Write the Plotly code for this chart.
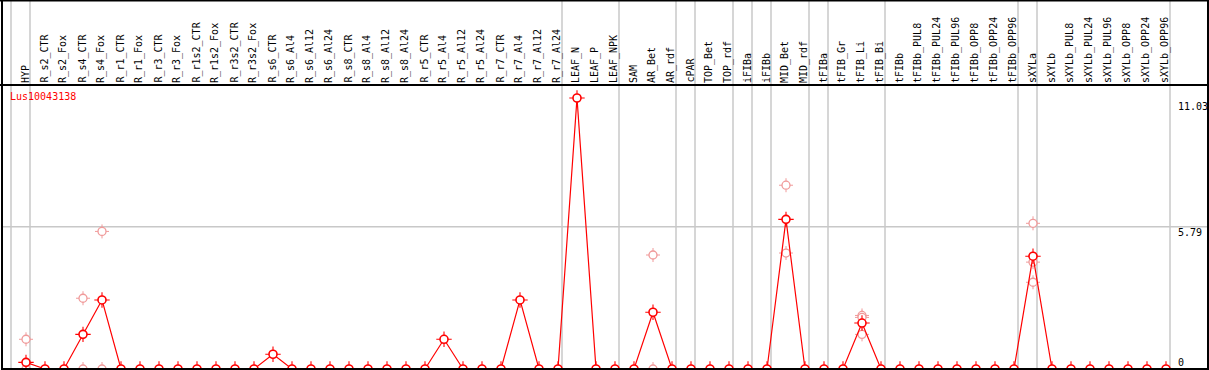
import plotly.graph_objects as go

categories = ["HYP", "R_s2_CTR", "R_s2_Fox", "R_s4_CTR", "R_s4_Fox", "R_r1_CTR", "R_r1_Fox",
              "R_r3_CTR", "R_r3_Fox", "R_r1s2_CTR", "R_r1s2_Fox", "R_r3s2_CTR", "R_r3s2_Fox",
              "R_s6_CTR", "R_s6_Al4", "R_s6_Al12", "R_s6_Al24", "R_s8_CTR", "R_s8_Al4",
              "R_s8_Al12", "R_s8_Al24", "R_r5_CTR", "R_r5_Al4", "R_r5_Al12", "R_r5_Al24",
              "R_r7_CTR", "R_r7_Al4", "R_r7_Al12", "R_r7_Al24", "LEAF_N", "LEAF_P", "LEAF_NPK",
              "SAM", "AR_Bet", "AR_rdf", "cPAR", "TOP_Bet", "TOP_rdf", "iFIBa", "iFIBb",
              "MID_Bet", "MID_rdf", "tFIBa", "tFIB_Gr", "tFIB_Li", "tFIB_Bi", "tFIBb",
              "tFIBb_PUL8", "tFIBb_PUL24", "tFIBb_PUL96", "tFIBb_OPP8", "tFIBb_OPP24",
              "tFIBb_OPP96", "sXYLa", "sXYLb", "sXYLb_PUL8", "sXYLb_PUL24", "sXYLb_PUL96",
              "sXYLb_OPP8", "sXYLb_OPP24", "sXYLb_OPP96"]

mean_values = [0.27, 0, 0, 1.41, 2.81, 0, 0, 0, 0, 0, 0, 0, 0,
               0.60, 0, 0, 0, 0, 0, 0, 0, 0, 1.21, 0, 0, 0, 2.81, 0, 0,
               11.03, 0, 0, 0, 2.31, 0, 0, 0, 0, 0, 0, 6.09, 0, 0, 0, 1.87, 0, 0,
               0, 0, 0, 0, 0, 0, 4.59, 0, 0, 0, 0, 0, 0, 0]

rep_categories = ["HYP", "HYP", "R_s4_CTR", "R_s4_CTR", "R_s4_Fox", "R_s4_Fox",
                  "AR_Bet", "AR_Bet", "MID_Bet", "MID_Bet", "tFIB_Li", "tFIB_Li", "tFIB_Li",
                  "sXYLa", "sXYLa", "sXYLa"]
rep_values = [1.21, 0, 2.88, 0, 5.60, 0, 4.64, 0, 7.48, 4.72, 2.18, 2.10, 1.41,
              5.93, 4.35, 3.53]

group_sizes = [1, 28, 3, 3, 1, 2, 1, 1, 2, 1, 3, 7, 1, 7]

y_ticks = [11.03, 5.79, 0]
y_tick_labels = ["11.03", "5.79", "0"]
gene_name = "Lus10043138"

W, H = 1209, 370
X0, DX = 26, 19.0
Y0, DY = 369, 24.57

idx = {c: i for i, c in enumerate(categories)}
xs = list(range(len(categories)))
rep_x = [idx[c] for c in rep_categories]

def px(p):
    return p / W

def py(p):
    return 1 - p / H

PALE = "#f09a9a"
RED = "#ff0000"

fig = go.Figure()

# replicates (pale)
fig.add_trace(go.Scatter(x=rep_x, y=rep_values, mode="markers",
                         marker=dict(symbol="cross-thin-open", size=10, color=PALE,
                                     line=dict(color=PALE, width=1)),
                         hoverinfo="skip", showlegend=False))
fig.add_trace(go.Scatter(x=rep_x, y=rep_values, mode="markers",
                         marker=dict(symbol="circle", size=8, color="white",
                                     line=dict(color=PALE, width=1.3)),
                         showlegend=False))
# mean line
fig.add_trace(go.Scatter(x=xs, y=mean_values, mode="lines",
                         line=dict(color=RED, width=1.2),
                         hoverinfo="skip", showlegend=False))
fig.add_trace(go.Scatter(x=xs, y=mean_values, mode="markers",
                         marker=dict(symbol="cross-thin-open", size=11, color=RED,
                                     line=dict(color=RED, width=1.1)),
                         hoverinfo="skip", showlegend=False))
fig.add_trace(go.Scatter(x=xs, y=mean_values, mode="markers",
                         marker=dict(symbol="circle", size=8, color="white",
                                     line=dict(color=RED, width=1.6)),
                         text=categories, showlegend=False))

shapes = []
# horizontal gridline at middle tick
shapes.append(dict(type="line", xref="paper", yref="y", x0=px(2), x1=1, y0=y_ticks[1], y1=y_ticks[1],
                   line=dict(color="#c8c8c8", width=1.5), layer="below"))
# group separators
pos = -1
bounds = [pos]
for g in group_sizes:
    pos += g
    bounds.append(pos)
for b in bounds:
    xb = b + 4 / DX
    shapes.append(dict(type="line", xref="x", yref="paper", x0=xb, x1=xb, y0=0, y1=1,
                       line=dict(color="#c8c8c8", width=1.5), layer="below"))
# frame lines
black = dict(color="black", width=2)
shapes.append(dict(type="line", xref="paper", yref="paper", x0=0, x1=1, y0=py(0.5), y1=py(0.5), line=black))
shapes.append(dict(type="line", xref="paper", yref="paper", x0=0, x1=1, y0=py(85), y1=py(85), line=black))
shapes.append(dict(type="line", xref="paper", yref="paper", x0=px(2), x1=1, y0=py(369), y1=py(369), line=black))
shapes.append(dict(type="line", xref="paper", yref="paper", x0=px(2), x1=px(2), y0=0, y1=1, line=black))
shapes.append(dict(type="line", xref="paper", yref="paper", x0=px(1208), x1=px(1208), y0=0, y1=1, line=black))

annotations = []
mono = "DejaVu Sans Mono"
for i, c in enumerate(categories):
    annotations.append(dict(x=i - 0.05, y=py(84), xref="x", yref="paper", text=c, textangle=-90,
                            showarrow=False, xanchor="center", yanchor="bottom",
                            font=dict(family=mono, size=10, color="black"), borderpad=0))
tick_pix = [106.5, 232.5, 362.5]
for t, lab, p in zip(y_ticks, y_tick_labels, tick_pix):
    annotations.append(dict(x=px(1177), y=py(p), xref="paper", yref="paper", text=lab,
                            showarrow=False, xanchor="left", yanchor="middle",
                            font=dict(family=mono, size=10, color="black"), borderpad=0))
annotations.append(dict(x=px(9), y=py(96), xref="paper", yref="paper", text=gene_name,
                        showarrow=False, xanchor="left", yanchor="middle",
                        font=dict(family=mono, size=10, color=RED), borderpad=0))

fig.update_layout(
    width=W, height=H,
    margin=dict(l=0, r=0, t=0, b=0),
    paper_bgcolor="white", plot_bgcolor="white",
    xaxis=dict(range=[-X0 / DX, (W - X0) / DX], visible=False, fixedrange=True),
    yaxis=dict(range=[-(H - Y0) / DY, Y0 / DY], visible=False, fixedrange=True),
    shapes=shapes, annotations=annotations, showlegend=False,
)

fig.write_html("out.html", config={"displayModeBar": False},
               post_script="document.body.style.margin='0px';document.body.style.overflow='hidden';")
